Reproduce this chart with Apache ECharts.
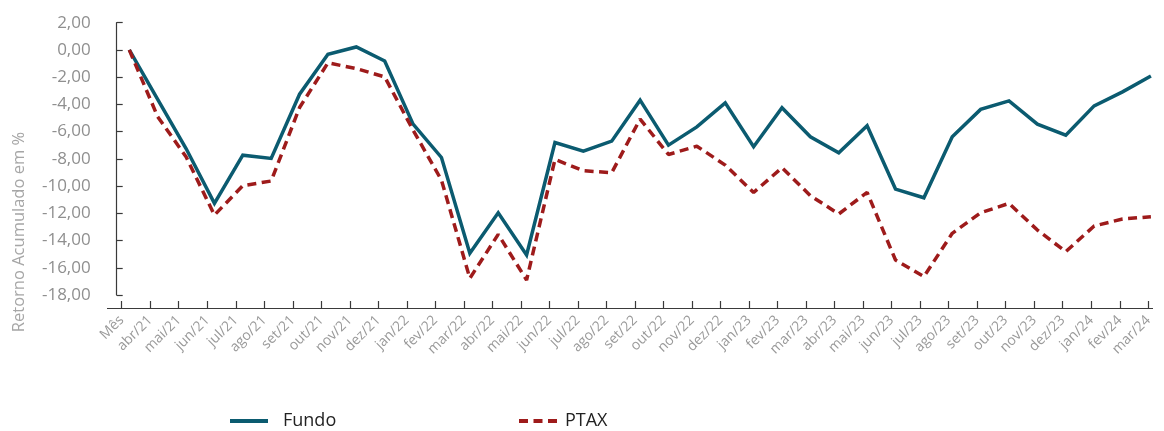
<!DOCTYPE html>
<html>
<head>
<meta charset="utf-8">
<script src="https://cdn.jsdelivr.net/npm/echarts@6/dist/echarts.min.js"></script>
<style>
html,body{margin:0;padding:0;background:#fff;}
#chart{width:1164px;height:431px;}
</style>
</head>
<body>
<div id="chart"></div>
<script>
const categories = ['Mês','abr/21','mai/21','jun/21','jul/21','ago/21','set/21','out/21','nov/21','dez/21','jan/22','fev/22','mar/22','abr/22','mai/22','jun/22','jul/22','ago/22','set/22','out/22','nov/22','dez/22','jan/23','fev/23','mar/23','abr/23','mai/23','jun/23','jul/23','ago/23','set/23','out/23','nov/23','dez/23','jan/24','fev/24','mar/24'];
const fundo = [0.00,-3.63,-7.24,-11.27,-7.73,-7.97,-3.25,-0.32,0.22,-0.81,-5.45,-7.90,-14.94,-11.96,-15.06,-6.80,-7.43,-6.70,-3.69,-6.99,-5.65,-3.89,-7.11,-4.25,-6.38,-7.55,-5.57,-10.22,-10.86,-6.38,-4.37,-3.74,-5.45,-6.26,-4.11,-3.08,-1.91];
const ptax = [0.00,-4.90,-7.85,-12.13,-9.97,-9.63,-4.23,-0.95,-1.37,-1.98,-5.89,-9.56,-16.77,-13.55,-16.90,-8.04,-8.87,-9.02,-5.08,-7.68,-7.07,-8.46,-10.47,-8.65,-10.70,-12.05,-10.46,-15.43,-16.65,-13.47,-11.96,-11.27,-13.23,-14.82,-12.93,-12.42,-12.25];
const yTicks = {min:-18, max:2, interval:2};
const seriesNames = ['Fundo','PTAX'];

const FONT = '"Open Sans", "Noto Sans", sans-serif';
const chart = echarts.init(document.getElementById('chart'));
chart.setOption({
  animation:false,
  backgroundColor:'#ffffff',
  grid:[
    {left:129.3, right:13.1, top:22.7, bottom:136},
    {left:121.7, right:15.7, top:22.7, bottom:123}
  ],
  xAxis:[
    {type:'category', gridIndex:0, data:categories, boundaryGap:false, show:false},
    {type:'category', gridIndex:1, data:categories, boundaryGap:false,
      axisLine:{show:true, lineStyle:{color:'#3a3a3a', width:1.2}},
      axisTick:{show:true, inside:true, length:7, alignWithLabel:true, lineStyle:{color:'#3a3a3a', width:1.2}},
      axisLabel:{rotate:45, interval:0, color:'#9a9a9a', fontSize:14, fontFamily:FONT, margin:10},
      splitLine:{show:false}
    }
  ],
  yAxis:[
    {type:'value', gridIndex:0, min:yTicks.min, max:yTicks.max, interval:yTicks.interval, offset:12.6,
      axisLine:{show:true, lineStyle:{color:'#3a3a3a', width:1.2}},
      axisTick:{show:true, inside:true, length:6, lineStyle:{color:'#3a3a3a', width:1.2}},
      axisLabel:{color:'#8f8f8f', fontSize:17, fontFamily:FONT, margin:26,
        formatter:v=>v.toFixed(2).replace('.',',')},
      splitLine:{show:false}
    },
    {type:'value', gridIndex:1, show:false}
  ],
  legend:[
    {data:['Fundo'], left:230, top:412, padding:0, itemWidth:38, itemHeight:4, icon:'rect',
      itemStyle:{color:'#0b5b70'},
      textStyle:{color:'#222', fontSize:18, fontFamily:FONT, padding:[0,0,0,10]}},
    {data:['PTAX'], left:517, top:412, padding:0, itemWidth:39, itemHeight:4,
      lineStyle:{width:4, type:[9,5.5]},
      textStyle:{color:'#222', fontSize:18, fontFamily:FONT, padding:[0,0,0,2]}}
  ],
  graphic:[
    {type:'line', shape:{x1:107, y1:308.5, x2:1153, y2:308.5}, style:{stroke:'#3a3a3a', lineWidth:1.2}, silent:true},
    {type:'text', x:19, y:232, rotation:Math.PI/2,
      style:{text:'Retorno Acumulado em %', fill:'#a6a6a6', font:'16.5px ' + FONT, textAlign:'center', textVerticalAlign:'middle'}}
  ],
  series:[
    {name:seriesNames[0], type:'line', xAxisIndex:0, yAxisIndex:0, data:fundo, symbol:'none',
      lineStyle:{color:'#0b5b70', width:3.5, join:'miter'}, itemStyle:{color:'#0b5b70'}},
    {name:seriesNames[1], type:'line', xAxisIndex:0, yAxisIndex:0, data:ptax, symbol:'none',
      lineStyle:{color:'#9e1b1b', width:3.5, type:[9,5.5]}, itemStyle:{color:'#9e1b1b'}}
  ]
});
</script>
</body>
</html>
